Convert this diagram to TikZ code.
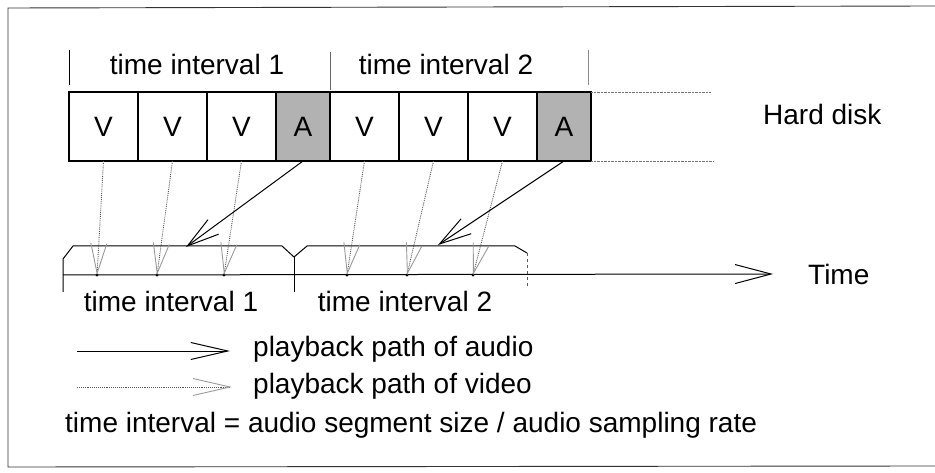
\documentclass[tikz,border=0pt]{standalone}
\usepackage{fontspec}
\setmainfont{Liberation Sans}
\usetikzlibrary{positioning,arrows.meta}

\begin{document}
\begin{tikzpicture}[x=1pt, y=-1pt,
    lbl/.style = {font=\fontsize{28}{34}\selectfont, inner sep=0pt},
    vbox/.style = {draw, line width=1.2pt, minimum width=69pt, minimum height=69pt, inner sep=0pt, outer sep=0pt, lbl},
    abox/.style = {vbox, minimum width=54pt, fill=black!30},
    tdot/.style = {circle, fill, inner sep=1.2pt},
    apath/.style = {line width=1pt, -{Straight Barb[length=32pt, width=18pt]}},
    vpath/.style = {densely dotted, black!65, line width=0.9pt, -{Straight Barb[length=30pt, width=16pt, color=black!40]}}]
        \useasboundingbox (0,0) rectangle (935,473);
        \draw[line width=0.9pt, black!80] (935,6) -- (8,8) -- (8,467) -- (935,466);
        \node[vbox] (v1) at (103.5,126.5) {V};
        \node[vbox, right=0pt of v1] (v2) {V};
        \node[vbox, right=0pt of v2] (v3) {V};
        \node[abox, right=0pt of v3] (a1) {A};
        \node[vbox, right=0pt of a1] (v4) {V};
        \node[vbox, right=0pt of v4] (v5) {V};
        \node[vbox, right=0pt of v5] (v6) {V};
        \node[abox, right=0pt of v6] (a2) {A};
        \node[lbl, anchor=base west] (disk) at (763,125) {Hard disk};
        \draw[densely dotted, black!55] (a2.north east) -- ++(120,0);
        \draw[densely dotted, black!55] (a2.south east) -- ++(122,0);
        \draw[line width=1pt] (69,50) -- (69,85);
        \draw[black!60] (330,52) -- (330,90);
        \draw[black!45] (588,50) -- (588,85);
        \node[lbl, anchor=base] (top1) at (197,75) {time interval 1};
        \node[lbl, anchor=base] (top2) at (446,75) {time interval 2};
        \draw[line width=1pt] (63,292) -- (63,259) -- (73,246) -- (282,246) -- (294,257) -- (307,246) -- (515,246) -- (527,253);
        \draw[line width=1pt] (294,257) -- (294,292);
        \draw[black!65, dashed] (527,253) -- (527,288);
        \coordinate (t0) at (63,275);
        \coordinate (t1) at (773,274);
        \draw[line width=1pt, -{Straight Barb[length=36pt, width=19pt]}] (t0) -- (t1);
        \node[lbl, anchor=base west] (time) at (808,284) {Time};
        \node[tdot] (d1) at (97,275) {};
        \node[tdot] (d2) at (157,275) {};
        \node[tdot] (d3) at (224,275) {};
        \node[tdot] (d4) at (347,275) {};
        \node[tdot] (d5) at (407,275) {};
        \node[tdot] (d6) at (473,275) {};
        \draw[vpath] (v1.south) -- (d1.center);
        \draw[vpath] (v2.south) -- (d2.center);
        \draw[vpath] (v3.south) -- (d3.center);
        \draw[vpath] (v4.south) -- (d4.center);
        \draw[vpath] (v5.south) -- (d5.center);
        \draw[vpath] (v6.south) -- (d6.center);
        \coordinate (p1) at (186,247);
        \coordinate (p2) at (438,245);
        \draw[apath] (a1.south) -- (p1);
        \draw[apath] (a2.south) -- (p2);
        \node[lbl, anchor=base] (bot1) at (171,312) {time interval 1};
        \node[lbl, anchor=base] (bot2) at (405,312) {time interval 2};
        \coordinate (la0) at (77,351);
        \coordinate (la1) at (230,351);
        \coordinate (lv0) at (77,387);
        \coordinate (lv1) at (232,387);
        \draw[line width=1pt, -{Straight Barb[length=37pt, width=17pt]}] (la0) -- (la1);
        \draw[vpath, -{Straight Barb[length=37pt, width=17pt, color=black!40]}] (lv0) -- (lv1);
        \node[lbl, anchor=base west] (leg1) at (253,356) {playback path of audio};
        \node[lbl, anchor=base west] (leg2) at (253,393) {playback path of video};
        \node[lbl, anchor=base west] (rule) at (65,432) {time interval = audio segment size / audio sampling rate};
      \end{tikzpicture}
\end{document}
